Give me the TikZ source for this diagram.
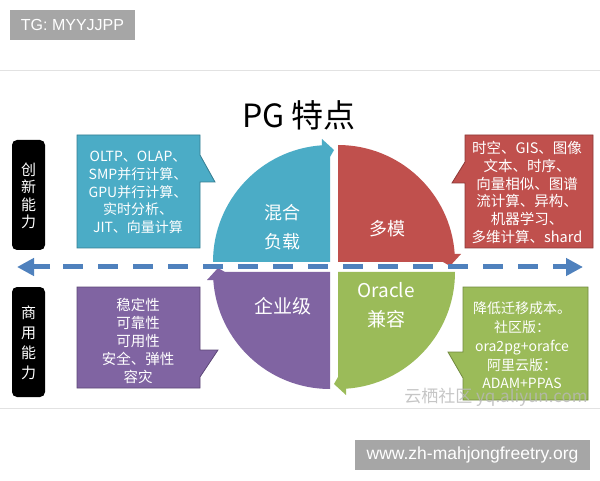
\documentclass[tikz,border=0pt]{standalone}
\usepackage{fontspec}
\setmainfont{Noto Sans CJK SC}
\newfontfamily\latinsans{Liberation Sans}
\usetikzlibrary{arrows.meta}
\definecolor{qblue}{HTML}{4BACC6}
\definecolor{qred}{HTML}{C0504D}
\definecolor{qpurple}{HTML}{8064A2}
\definecolor{qgreen}{HTML}{9BBB59}
\definecolor{qbluedk}{HTML}{357D91}
\definecolor{qreddk}{HTML}{8C3836}
\definecolor{qpurpledk}{HTML}{5C4776}
\definecolor{qgreendk}{HTML}{71893F}
\definecolor{arrowblue}{HTML}{4F81BD}
\definecolor{taggray}{HTML}{A6A6A6}
\definecolor{rulegray}{HTML}{E2E2E2}
\begin{document}
\begin{tikzpicture}[x=1pt,y=1pt,
  tagbox/.style={fill=taggray,draw=none},
  tagtext/.style={text=white,font=\latinsans\fontsize{16}{18}\selectfont,inner sep=0pt},
  sidebox/.style={fill=black,rounded corners=5pt},
  sidetext/.style={text=white,align=center,inner sep=0pt},
  quadtext/.style={text=white,align=center,inner sep=0pt,font=\fontsize{18}{29}\selectfont},
  calltext/.style={text=white,align=center,inner sep=0pt},
  arrowline/.style={draw=arrowblue,line width=5pt},
  headtip/.style={-{Triangle[length=17pt,width=17pt]}}
]
\useasboundingbox (0,0) rectangle (600,480);
\fill[white] (0,0) rectangle (600,480);

% tags
\fill[tagbox] (10,440) rectangle (135,470);
\node[tagtext] (tagA) at (72.5,455) {TG: MYYJJPP};
\fill[tagbox] (355,10) rectangle (590,40);
\node[tagtext,font=\latinsans\fontsize{17.5}{20}\selectfont] (tagB) at (472.5,25) {www.zh-mahjongfreetry.org};

% rules
\draw[rulegray,line width=1pt] (0,409) -- (600,409);
\draw[rulegray,line width=1pt] (0,72) -- (600,72);

% title
\node[inner sep=0pt,font=\fontsize{32}{36}\selectfont] (title) at (299,365) {PG 特点};

% side boxes
\fill[sidebox] (12,340) rectangle (45,230);
\node[sidetext,font=\fontsize{15}{17.5}\selectfont] (inno) at (28.5,284) {创\\新\\能\\力};
\fill[sidebox] (12,193) rectangle (45,83);
\node[sidetext,font=\fontsize{15}{20}\selectfont] (comm) at (28.5,137) {商\\用\\能\\力};

% quadrants
\fill[qblue] (330,218) -- (213,218) arc[start angle=180,end angle=94,radius=117]
  -- (322,341) -- (334,330) -- (330,323) -- cycle;
\fill[qred] (338,218) -- (338,335) arc[start angle=90,end angle=4,radius=117]
  -- (461,226) -- (450,214) -- (443,218) -- cycle;
\fill[qgreen] (338,208) -- (455,208) arc[start angle=0,end angle=-86,radius=117]
  -- (346,85) -- (334,96) -- (338,103) -- cycle;
\fill[qpurple] (330,208) -- (330,91) arc[start angle=-90,end angle=-176,radius=117]
  -- (207,200) -- (218,212) -- (225,208) -- cycle;

\node[quadtext] (mix) at (282,252.5) {混合\\负载};
\node[quadtext] (multi) at (387,251) {多模};
\node[quadtext,font=\fontsize{19}{29}\selectfont] (ent) at (283,174) {企业级};
\node[quadtext,font=\fontsize{19}{29}\selectfont] (ora) at (386,174.5) {Oracle\\兼容};

% callouts
\filldraw[fill=qblue,draw=qbluedk,line width=0.8pt]
  (77,345) -- (200,345) -- (200,325) -- (215,298) -- (200,298) -- (200,232) -- (77,232) -- cycle;
\filldraw[fill=qred,draw=qreddk,line width=0.8pt]
  (465,345) -- (593,345) -- (593,232) -- (465,232) -- (465,297) -- (452,297) -- (465,318) -- cycle;
\filldraw[fill=qpurple,draw=qpurpledk,line width=0.8pt]
  (77,193) -- (200,193) -- (200,130) -- (218,130) -- (200,103) -- (200,92) -- (77,92) -- cycle;
\filldraw[fill=qgreen,draw=qgreendk,line width=0.8pt]
  (463,193) -- (588,193) -- (588,80) -- (463,80) -- (463,102) -- (448,128) -- (463,128) -- cycle;

\node[calltext,font=\fontsize{14}{17.7}\selectfont] (cblue) at (138,287.5)
  {OLTP、OLAP、\\SMP并行计算、\\GPU并行计算、\\实时分析、\\JIT、向量计算};
\node[calltext,font=\fontsize{14.5}{17.8}\selectfont] (cred) at (527,287.5)
  {时空、GIS、图像\\文本、时序、\\向量相似、图谱\\流计算、异构、\\机器学习、\\多维计算、shard};
\node[calltext,font=\fontsize{14.5}{18}\selectfont] (cpurple) at (138,139)
  {稳定性\\可靠性\\可用性\\安全、弹性\\容灾};
\node[calltext,font=\fontsize{14}{18.75}\selectfont] (cgreen) at (522,134.5)
  {降低迁移成本。\\社区版：\\ora2pg+orafce\\阿里云版：\\ADAM+PPAS};

% dashed double arrow
\coordinate (Ltip) at (17,213);
\coordinate (Lend) at (50,213);
\coordinate (Dstart) at (63,213);
\coordinate (Dend) at (540,213);
\coordinate (Rstart) at (553,213);
\coordinate (Rtip) at (583,213);
\draw[arrowline,headtip] (Lend) -- (Ltip);
\draw[arrowline,dash pattern=on 20pt off 15pt] (Dstart) -- (Dend);
\draw[arrowline,headtip] (Rstart) -- (Rtip);

% watermark
\node[inner sep=0pt,text=black!28,opacity=0.8,font=\fontsize{17}{20}\selectfont] (wm) at (496,83) {云栖社区 yq.aliyun.com};
\end{tikzpicture}
\end{document}
